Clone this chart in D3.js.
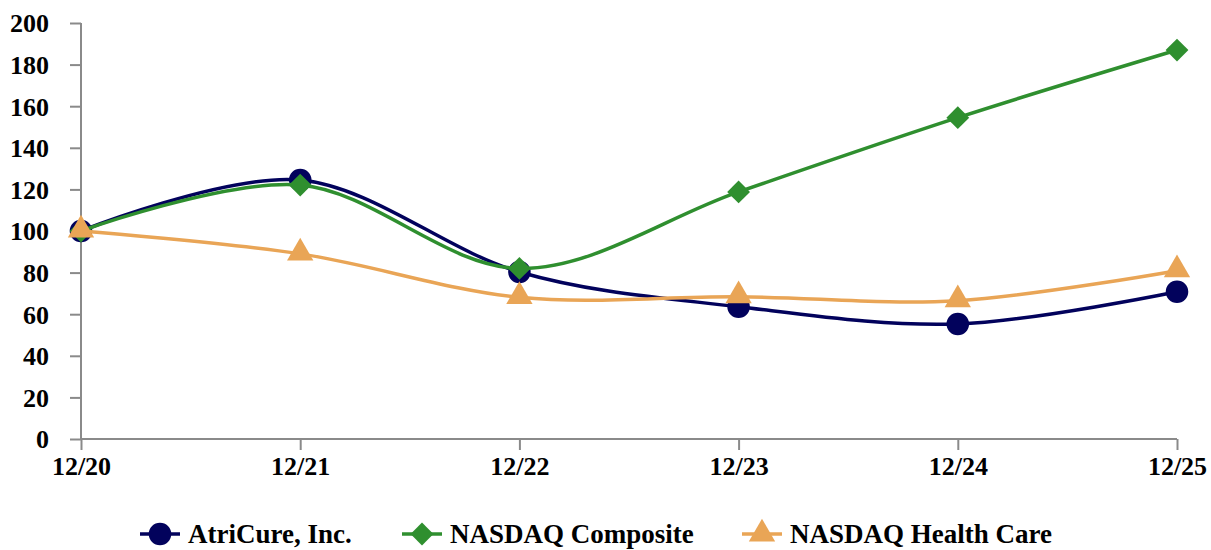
<!DOCTYPE html>
<html>
<head>
<meta charset="utf-8">
<script src="https://cdn.jsdelivr.net/npm/d3@7"></script>
<style>
  body { margin: 0; background: #fff; }
  svg { display: block; }
  text { font-family: "Liberation Serif", "Times New Roman", serif; font-weight: bold; fill: #000; }
</style>
</head>
<body>
<div class="svg_container"></div>
<script>
// Data
var periods = ["12/20", "12/21", "12/22", "12/23", "12/24", "12/25"];
var atricure = [100, 124.5, 80.3, 63.6, 55.3, 70.8];
var nasdaqComposite = [100, 122.1, 82, 118.8, 154.5, 187];
var nasdaqHealthCare = [100, 89, 68.1, 68.4, 66.5, 80.9];
var yTicks = [0, 20, 40, 60, 80, 100, 120, 140, 160, 180, 200];
var seriesNames = ["AtriCure, Inc.", "NASDAQ Composite", "NASDAQ Health Care"];

var W = 1211, H = 550;
var NAVY = "#02025c", GREEN = "#2f8f2f", ORANGE = "#e9a556", AXIS = "#8a8a8a";

var series = [
    {name: seriesNames[0], values: atricure, color: NAVY, marker: "circle"},
    {name: seriesNames[1], values: nasdaqComposite, color: GREEN, marker: "diamond"},
    {name: seriesNames[2], values: nasdaqHealthCare, color: ORANGE, marker: "triangle"}
];

var svg = d3.select("div.svg_container")
    .append("svg")
    .attr("width", W)
    .attr("height", H);

var x = d3.scalePoint()
    .domain(periods)
    .range([81, 1177]);

var y = d3.scaleLinear()
    .domain([0, 200])
    .range([439, 23]);

// Y axis
var yAxis = svg.append("g")
    .attr("transform", "translate(81,0)")
    .call(d3.axisLeft(y).tickValues(yTicks).tickSize(11).tickPadding(21));
yAxis.selectAll("line, path").attr("stroke", AXIS).attr("stroke-width", 2);
yAxis.select("path").attr("d", "M0," + y(200) + "V" + y(0));
yAxis.selectAll("text")
    .style("font-size", "26px")
    .attr("dy", "0.34em");

// X axis
var xAxis = svg.append("g")
    .attr("transform", "translate(0,439)")
    .call(d3.axisBottom(x).tickSize(11).tickPadding(7));
xAxis.selectAll("line, path").attr("stroke", AXIS).attr("stroke-width", 2);
xAxis.select("path").attr("d", "M" + x(periods[0]) + ",0H" + x(periods[periods.length - 1]));
xAxis.selectAll("text")
    .style("font-size", "26px")
    .attr("dy", "0.71em");

function markerPath(type, size) {
    if (type === "circle") return d3.symbol(d3.symbolCircle, size)();
    if (type === "diamond") return d3.symbol(d3.symbolSquare, size)();
    return d3.symbol(d3.symbolTriangle, size)();
}
var markerSize = {circle: 400, diamond: 260, triangle: 300};

var line = d3.line()
    .x(function(d, i) { return x(periods[i]); })
    .y(function(d) { return y(d); })
    .curve(d3.curveCardinal.tension(0));

series.forEach(function(s) {
    var g = svg.append("g").attr("class", "series");
    g.append("path")
        .datum(s.values)
        .attr("d", line)
        .attr("fill", "none")
        .attr("stroke", s.color)
        .attr("stroke-width", 3.5);
    g.selectAll("path.marker")
        .data(s.values)
        .enter()
        .append("path")
        .attr("class", "marker")
        .attr("d", markerPath(s.marker, markerSize[s.marker]))
        .attr("fill", s.color)
        .attr("transform", function(d, i) {
            var t = "translate(" + x(periods[i]) + "," + y(d) + ")";
            if (s.marker === "diamond") t += " rotate(45)";
            if (s.marker === "triangle") t += " translate(0,-1)";
            return t;
        });
});

// Legend
var legendX = [160, 422, 762];
var legend = svg.append("g").attr("class", "legend");
series.forEach(function(s, i) {
    var cx = legendX[i], cy = 534;
    legend.append("line")
        .attr("x1", cx - 20).attr("x2", cx + 20)
        .attr("y1", cy).attr("y2", cy)
        .attr("stroke", s.color)
        .attr("stroke-width", 3.5);
    legend.append("path")
        .attr("d", markerPath(s.marker, markerSize[s.marker]))
        .attr("fill", s.color)
        .attr("transform", "translate(" + cx + "," + cy + ")" + (s.marker === "diamond" ? " rotate(45)" : ""));
    legend.append("text")
        .attr("x", cx + 28)
        .attr("y", cy)
        .attr("dy", "0.35em")
        .style("font-size", "27px")
        .text(s.name);
});
</script>
</body>
</html>
